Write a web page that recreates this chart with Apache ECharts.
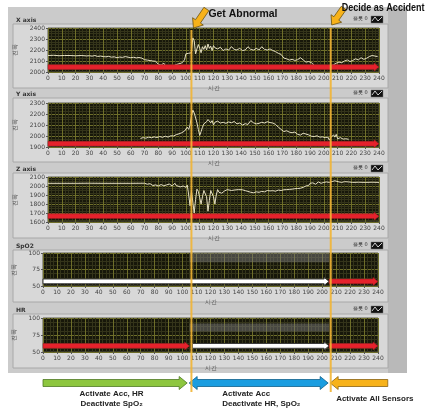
<!DOCTYPE html>
<html><head><meta charset="utf-8">
<script src="https://cdn.jsdelivr.net/npm/echarts@6/dist/echarts.min.js"></script>
<style>html,body{margin:0;padding:0;background:#fff}#c{width:429px;height:411px}</style>
</head><body><div id="c"></div>
<script>
// ---------- data ----------
const panelTitles = ['X axis', 'Y axis', 'Z axis', 'SpO2', 'HR'];
const yMins = [2000, 1900, 1600, 50, 50];
const yMaxs = [2400, 2300, 2100, 100, 100];
const yIntervals = [100, 100, 100, 25, 25];
const timeMin = 0, timeMax = 240, timeStep = 10;
const xAxisName = '시간';
const yAxisName = '진폭';
const legendName = '플롯 0';

const xSignal = [[0,2150],[4,2152],[8,2148],[12,2150],[16,2150],[20,2147],[24,2150],[28,2146],[30,2148],[32,2144],[34,2150],[36,2141],[38,2145],[40,2140],[42,2138],[44,2142],[46,2135],[48,2138],[50,2130],[52,2136],[54,2133],[56,2140],[57,2152],[58,2135],[60,2130],[62,2134],[64,2128],[66,2132],[68,2126],[70,2112],[71,2100],[72,2108],[73,2095],[74,2104],[75,2090],[76,2100],[77,2085],[78,2098],[79,2088],[80,2070],[82,2062],[84,2080],[85,2058],[88,2050],[91,2055],[93,2068],[95,2075],[96,2090],[97,2082],[98,2100],[99,2110],[100,2165],[101,2150],[102,2170],[103,2162],[104,2175],[105,2310],[106,2285],[107,2165],[108,2210],[109,2250],[110,2215],[111,2175],[112,2230],[113,2205],[114,2240],[115,2200],[116,2255],[117,2215],[118,2235],[119,2195],[120,2240],[121,2220],[123,2210],[125,2225],[127,2195],[129,2210],[131,2200],[133,2230],[135,2205],[137,2200],[139,2215],[141,2195],[143,2200],[145,2230],[147,2205],[149,2200],[151,2215],[153,2200],[155,2230],[157,2205],[159,2200],[161,2210],[163,2195],[165,2185],[167,2170],[169,2160],[171,2127],[173,2120],[175,2108],[177,2115],[179,2105],[181,2112],[183,2130],[185,2110],[187,2090],[189,2095],[191,2085],[193,2060],[196,2040],[200,2045],[204,2050],[207,2065],[209,2080],[211,2090],[213,2085],[215,2100],[217,2110],[219,2095],[221,2105],[223,2120],[225,2110],[227,2130],[229,2115],[231,2125],[233,2140],[235,2150],[237,2145],[239,2140]];

const ySignal = [[67,1978],[69,1985],[71,1980],[73,1990],[75,1984],[77,1992],[79,1986],[81,1995],[83,1988],[85,1998],[87,1990],[89,2002],[91,2000],[93,2012],[95,2020],[96,2015],[97,2030],[98,2022],[99,2045],[100,2030],[101,2080],[102,2060],[103,2100],[104,2180],[105,2235],[106,2210],[107,2225],[108,2120],[109,2060],[110,2005],[111,2040],[112,2080],[113,2110],[114,2095],[115,2130],[116,2150],[117,2165],[118,2120],[119,2140],[120,2100],[121,2125],[123,2135],[125,2118],[127,2125],[129,2115],[131,2128],[133,2120],[135,2132],[137,2110],[139,2118],[141,2100],[143,2112],[145,2105],[147,2140],[149,2120],[151,2110],[153,2115],[155,2125],[157,2118],[159,2130],[161,2122],[163,2118],[165,2105],[167,2080],[169,2060],[171,2040],[173,2048],[175,2035],[177,2030],[179,2036],[181,2015],[183,2008],[185,2025],[187,2018],[189,2010],[191,1998],[193,1995],[195,2002],[197,1990],[199,1992],[201,1985],[203,1990],[204,1962],[205,1985],[206,1970],[207,2010],[208,1990],[209,2015],[210,1975],[212,1985],[214,1972],[216,1975],[218,1970]];

const zSignal = [[0,2030],[10,2030],[20,2030],[30,2031],[40,2030],[50,2030],[60,2030],[70,2031],[72,2020],[74,2026],[76,2005],[78,2012],[80,2000],[82,2016],[84,2002],[86,2012],[88,2022],[90,2000],[92,2030],[93,2005],[94,1995],[96,1990],[98,2000],[100,1985],[101,2010],[102,1900],[103,1780],[104,1950],[105,1820],[106,1700],[107,1850],[108,1965],[109,1940],[110,1870],[111,1800],[112,1880],[113,1950],[114,1965],[115,1880],[116,1720],[117,1840],[118,1950],[119,1960],[120,1880],[121,1800],[122,1900],[123,1960],[124,1930],[126,1920],[128,1945],[130,1960],[133,1950],[135,1955],[138,1960],[141,1958],[143,1948],[145,1940],[147,1930],[149,1925],[151,1935],[153,1930],[155,1940],[157,1935],[159,1950],[161,1945],[163,1948],[165,1942],[167,1955],[169,1950],[171,1958],[173,1960],[175,1962],[177,1965],[179,1970],[181,1972],[183,1975],[185,1985],[187,2000],[189,2005],[190,2030],[192,2035],[193,2040],[194,2020],[196,2045],[198,2030],[200,2040],[202,2045],[204,2040],[206,2050],[208,2058],[209,2040],[211,2045],[213,2040],[215,2048],[218,2045],[221,2040],[225,2042],[230,2040],[235,2042],[240,2040]];

// sensor state bars: [start, end, level, isActive(1=red,0=white)]
const xBars = [[0, 240, 2045, 1]];
const yBars = [[0, 240, 1930, 1]];
const zBars = [[0, 240, 1665, 1]];
const spo2Bars = [[0, 205, 57, 0], [205, 240, 57, 1]];
const hrBars = [[0, 105, 59, 1], [107, 205, 59, 0], [205, 240, 59, 1]];
// shaded (inactive) regions: [start, end, low, high]
const spo2Shade = [[105, 205, 86, 100]];
const hrShade = [[105, 205, 80, 92]];

const eventTimes = [104, 205];
const eventLabels = ['Get Abnormal', 'Decide as Accident'];
const phaseBounds = [0, 104, 205, 247];
const phaseLines1 = ['Activate Acc, HR', 'Activate Acc', 'Activate All Sensors'];
const phaseLines2 = ['Deactivate SpO₂', 'Deactivate HR, SpO₂', ''];

// ---------- layout ----------
const grids = [
  {left: 48, top: 28, width: 331, height: 44},
  {left: 48, top: 103, width: 331, height: 44},
  {left: 48, top: 177, width: 331, height: 45},
  {left: 43, top: 253, width: 335, height: 33},
  {left: 43, top: 318, width: 335, height: 34}
];
const panelBoxes = [[13, 24, 375, 64], [13, 98, 375, 64], [13, 173, 375, 65], [13, 250, 375, 52], [13, 314, 375, 54]];
const titleY = [20, 94, 169, 246, 310];

const chart = echarts.init(document.getElementById('c'), null, {renderer: 'canvas'});
const FONT = 'DejaVu Sans';

function renderBar(params, api) {
  const a = api.coord([api.value(0), api.value(2)]);
  const b = api.coord([api.value(1), api.value(2)]);
  const active = api.value(3) === 1;
  const y = a[1], h = 2.4, hw = 4, head = 5;
  const neck = b[0] - head;
  const pts = [[a[0], y - h], [neck, y - h], [neck, y - hw], [b[0], y], [neck, y + hw], [neck, y + h], [a[0], y + h]];
  return {
    type: 'polygon', shape: {points: pts},
    style: {fill: active ? '#e5222c' : '#ffffff', stroke: active ? '#9a1820' : '#3a3a3a', lineWidth: active ? 0.5 : 1}
  };
}

const gridOpts = [], xAxes = [], yAxes = [], series = [];
const signals = [xSignal, ySignal, zSignal, null, null];
const barsets = [xBars, yBars, zBars, spo2Bars, hrBars];
const shades = [null, null, null, spo2Shade, hrShade];
const plain = v => String(v);

for (let i = 0; i < 5; i++) {
  gridOpts.push(Object.assign({show: true, backgroundColor: '#17170a', borderColor: '#5a5a4a', borderWidth: 1}, grids[i]));
  xAxes.push({
    type: 'value', gridIndex: i, min: timeMin, max: timeMax, interval: timeStep,
    name: xAxisName, nameLocation: 'middle', nameGap: 13,
    nameTextStyle: {fontSize: 6, color: '#555', fontFamily: FONT},
    axisLine: {show: false},
    axisTick: {show: true, length: 2, lineStyle: {color: '#555'}},
    axisLabel: {fontSize: 6, color: '#444', margin: 3, fontFamily: FONT, formatter: plain},
    splitLine: {show: true, lineStyle: {color: '#6e6e2a', width: 1}},
    minorTick: {show: false, splitNumber: 4},
    minorSplitLine: {show: true, lineStyle: {color: '#34341a', width: 1}}
  });
  yAxes.push({
    type: 'value', gridIndex: i, min: yMins[i], max: yMaxs[i], interval: yIntervals[i],
    name: yAxisName, nameLocation: 'middle', nameGap: i < 3 ? 17 : 13, nameRotate: 90,
    nameTextStyle: {fontSize: 6, color: '#555', fontFamily: FONT},
    axisLine: {show: false},
    axisTick: {show: true, length: 2, lineStyle: {color: '#555'}},
    axisLabel: {fontSize: 6, color: '#444', margin: 3, fontFamily: FONT, formatter: plain},
    splitLine: {show: true, lineStyle: {color: '#6e6e2a', width: 1}},
    minorTick: {show: false, splitNumber: 4},
    minorSplitLine: {show: true, lineStyle: {color: '#34341a', width: 1}}
  });
  if (signals[i]) {
    series.push({
      type: 'line', xAxisIndex: i, yAxisIndex: i, data: signals[i], showSymbol: false, symbol: 'none',
      lineStyle: {color: '#e6e0c2', width: 1}, z: 3, animation: false
    });
  }
  if (shades[i]) {
    series.push({
      type: 'custom', xAxisIndex: i, yAxisIndex: i, data: shades[i], z: 2, animation: false,
      renderItem: function (p, api) {
        const a = api.coord([api.value(0), api.value(3)]);
        const b = api.coord([api.value(1), api.value(2)]);
        return {type: 'rect', shape: {x: a[0], y: a[1], width: b[0] - a[0], height: b[1] - a[1]}, style: {fill: 'rgba(120,120,120,0.5)'}};
      }
    });
  }
  series.push({
    type: 'custom', xAxisIndex: i, yAxisIndex: i, data: barsets[i], renderItem: renderBar, z: 5, clip: false, animation: false
  });
}

chart.setOption({
  animation: false,
  backgroundColor: '#ffffff',
  grid: gridOpts, xAxis: xAxes, yAxis: yAxes, series: series
});

// ---------- annotations (positions derived from the axes) ----------
const g = [];
g.push({type: 'rect', shape: {x: 8, y: 7, width: 380, height: 366}, style: {fill: '#cbcbcb'}, z: -10});
g.push({type: 'rect', shape: {x: 388, y: 7, width: 19, height: 366}, style: {fill: '#b9b9b9'}, z: -10});
for (let i = 0; i < 5; i++) {
  const b = panelBoxes[i];
  g.push({type: 'rect', shape: {x: b[0], y: b[1], width: b[2], height: b[3]}, style: {fill: '#d8d8d8', stroke: '#a8a8a8', lineWidth: 1}, z: -9});
  g.push({type: 'text', x: 16, y: titleY[i], style: {text: panelTitles[i], font: 'bold 6px ' + FONT, fill: '#333', verticalAlign: 'middle'}, z: 1});
  g.push({type: 'text', x: 353, y: titleY[i] - 1, style: {text: legendName, font: '5px ' + FONT, fill: '#333', verticalAlign: 'middle'}, z: 1});
  g.push({type: 'rect', shape: {x: 371, y: titleY[i] - 4, width: 12, height: 7}, style: {fill: '#111', stroke: '#777', lineWidth: 0.5}, z: 1});
  g.push({type: 'polyline', shape: {points: [[372, titleY[i] + 1], [375, titleY[i] - 3], [378, titleY[i] + 1], [382, titleY[i] - 3]]}, style: {stroke: '#fff', lineWidth: 0.8, fill: null}, z: 2});
}
const evPx = eventTimes.map(t => chart.convertToPixel({xAxisIndex: 0}, t));
const lineTop = [30, 28];
evPx.forEach((x, k) => {
  g.push({type: 'line', shape: {x1: x, y1: lineTop[k], x2: x, y2: 392}, style: {stroke: '#f2b534', lineWidth: 2, opacity: 0.9}, z: 20});
});
function blockArrow(tail, tip, bw, hw, hl, fill, stroke) {
  const dx = tip[0] - tail[0], dy = tip[1] - tail[1];
  const L = Math.hypot(dx, dy), ux = dx / L, uy = dy / L, nx = -uy, ny = ux;
  const nk = [tip[0] - ux * hl, tip[1] - uy * hl];
  const pts = [
    [tail[0] + nx * bw, tail[1] + ny * bw], [nk[0] + nx * bw, nk[1] + ny * bw], [nk[0] + nx * hw, nk[1] + ny * hw],
    tip, [nk[0] - nx * hw, nk[1] - ny * hw], [nk[0] - nx * bw, nk[1] - ny * bw], [tail[0] - nx * bw, tail[1] - ny * bw]
  ];
  return {type: 'polygon', shape: {points: pts}, style: {fill: fill, stroke: stroke, lineWidth: 0.8}, z: 21};
}
g.push(blockArrow([evPx[0] + 15, 9], [evPx[0] + 2, 28], 3, 6.5, 8, '#f7b21a', '#6b5210'));
g.push(blockArrow([evPx[1] + 13, 8], [evPx[1] + 1, 25], 3, 6.5, 8, '#f7b21a', '#6b5210'));
const hf = 'bold 11px "Liberation Sans"';
g.push({type: 'text', x: evPx[0] + 17, y: 14, scaleX: 0.95, style: {text: eventLabels[0], font: hf, fill: '#111', verticalAlign: 'middle'}, z: 22});
g.push({type: 'text', x: evPx[1] + 11, y: 8, scaleX: 0.82, style: {text: eventLabels[1], font: hf, fill: '#111', verticalAlign: 'middle'}, z: 22});

// phase arrows along the time axis
const ph = phaseBounds.map(t => chart.convertToPixel({xAxisIndex: 4}, t));
const ay = 383;
function hArrow(x0, x1, leftHead, rightHead, fill, stroke) {
  const bh = 3.5, hh = 6.5, hl = 8;
  const pts = [];
  if (leftHead) { pts.push([x0, ay], [x0 + hl, ay - hh], [x0 + hl, ay - bh]); } else { pts.push([x0, ay - bh]); }
  if (rightHead) { pts.push([x1 - hl, ay - bh], [x1 - hl, ay - hh], [x1, ay], [x1 - hl, ay + hh], [x1 - hl, ay + bh]); } else { pts.push([x1, ay - bh], [x1, ay + bh]); }
  if (leftHead) { pts.push([x0 + hl, ay + bh], [x0 + hl, ay + hh]); } else { pts.push([x0, ay + bh]); }
  return {type: 'polygon', shape: {points: pts}, style: {fill: fill, stroke: stroke, lineWidth: 0.8}, z: 19};
}
g.push(hArrow(ph[0], ph[1] - 1, false, true, '#8dc63f', '#4f7a25'));
g.push(hArrow(ph[1] + 1, ph[2] - 1, true, true, '#1a9de0', '#0f5f8a'));
g.push(hArrow(ph[2] + 1, ph[3], true, false, '#f7b21a', '#8a6210'));
const tf = 'bold 8px "Liberation Sans"';
g.push({type: 'text', x: (ph[0] + ph[1]) / 2 - 4, y: 394, style: {text: phaseLines1[0], font: tf, fill: '#222', align: 'center', verticalAlign: 'middle'}, z: 22});
g.push({type: 'text', x: (ph[0] + ph[1]) / 2 - 4, y: 404, style: {text: phaseLines2[0], font: tf, fill: '#222', align: 'center', verticalAlign: 'middle'}, z: 22});
g.push({type: 'text', x: ph[1] + 34, y: 394, style: {text: phaseLines1[1], font: tf, fill: '#222', verticalAlign: 'middle'}, z: 22});
g.push({type: 'text', x: ph[1] + 34, y: 404, style: {text: phaseLines2[1], font: tf, fill: '#222', verticalAlign: 'middle'}, z: 22});
g.push({type: 'text', x: ph[2] + 7, y: 399, style: {text: phaseLines1[2], font: tf, fill: '#222', verticalAlign: 'middle'}, z: 22});

chart.setOption({graphic: g});
</script></body></html>
